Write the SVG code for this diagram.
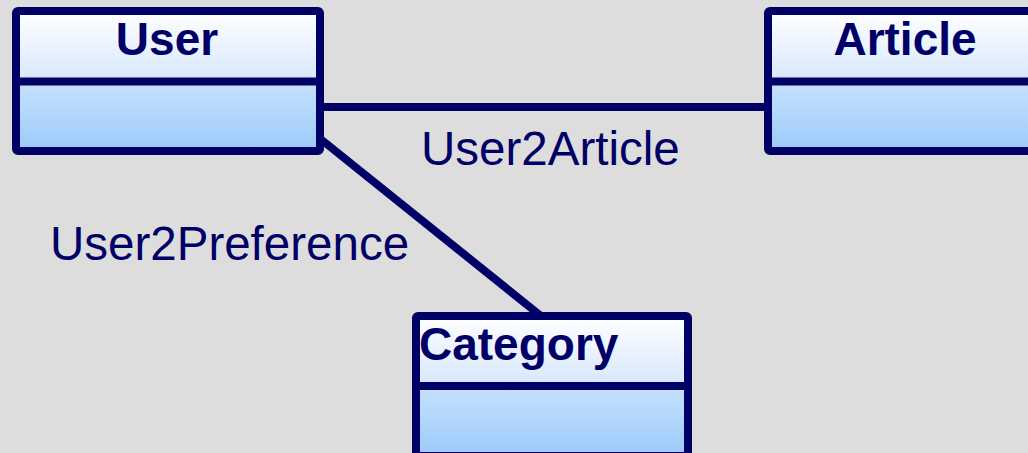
<svg xmlns="http://www.w3.org/2000/svg" width="1028" height="453" viewBox="0 0 1028 453">
  <defs>
    <linearGradient id="headFill" x1="0" y1="0" x2="0" y2="1">
      <stop offset="0" stop-color="#ffffff"/>
      <stop offset="1" stop-color="#d6e7fc"/>
    </linearGradient>
    <linearGradient id="bodyFill" x1="0" y1="0" x2="0" y2="1">
      <stop offset="0" stop-color="#c8e1fc"/>
      <stop offset="1" stop-color="#9bcafc"/>
    </linearGradient>
    <style>
      .frame { fill: none; stroke: #000066; stroke-width: 8; stroke-linejoin: round; }
      .sep { stroke: #000066; stroke-width: 8; }
      .head { fill: url(#headFill); }
      .body { fill: url(#bodyFill); }
      .title { font-family: "Liberation Sans", Arial, sans-serif; font-weight: bold; font-size: 46px; fill: #000066; }
      .label { font-family: "Liberation Sans", Arial, sans-serif; font-size: 47.5px; fill: #000066; }
      .link { stroke: #000066; stroke-width: 8; fill: none; }
    </style>
  </defs>

  <rect width="1028" height="453" fill="#dddddd"/>

  <!-- associations -->
  <g id="connectors">
    <line class="link" x1="320" y1="107" x2="768" y2="107"/>
    <line class="link" x1="318" y1="137" x2="541" y2="316"/>
    <text class="label" x="421" y="165">User2Article</text>
    <text class="label" x="50" y="260">User2Preference</text>
  </g>

  <!-- class User -->
  <g id="user">
    <rect class="head" x="16" y="11" width="304" height="71"/>
    <rect class="body" x="16" y="82" width="304" height="69"/>
    <line class="sep" x1="16" y1="81.5" x2="320" y2="81.5"/>
    <rect class="frame" x="16" y="11" width="304" height="140" rx="2"/>
    <text class="title" x="167" y="55" text-anchor="middle">User</text>
  </g>

  <!-- class Article -->
  <g id="article">
    <rect class="head" x="768" y="11" width="274" height="71"/>
    <rect class="body" x="768" y="82" width="274" height="69"/>
    <line class="sep" x1="768" y1="81.5" x2="1042" y2="81.5"/>
    <rect class="frame" x="768" y="11" width="274" height="140" rx="2"/>
    <text class="title" x="905" y="55" text-anchor="middle">Article</text>
  </g>

  <!-- class Category -->
  <g id="category">
    <rect class="head" x="416" y="316" width="272" height="70"/>
    <rect class="body" x="416" y="386" width="272" height="70"/>
    <line class="sep" x1="416" y1="386" x2="688" y2="386"/>
    <rect class="frame" x="416" y="316" width="272" height="140" rx="2"/>
    <text class="title" x="419" y="360">Category</text>
  </g>
</svg>
